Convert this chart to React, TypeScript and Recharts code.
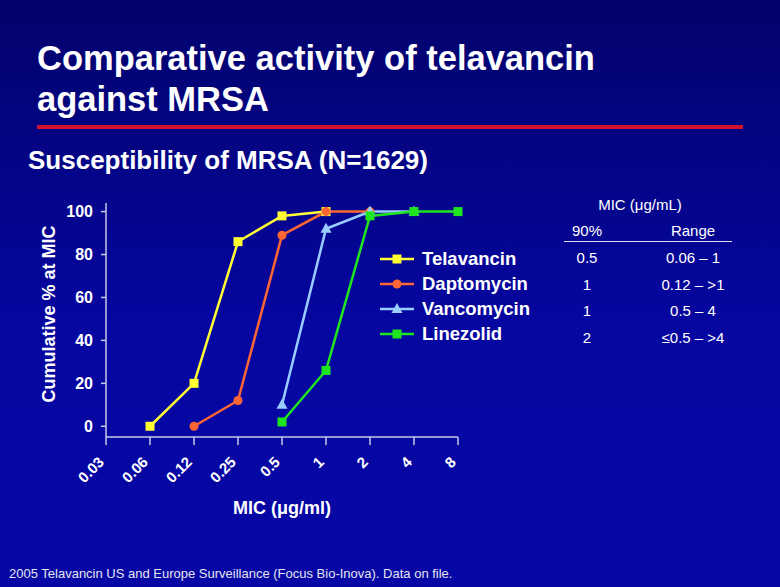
import React from 'react';
import { LineChart, Line, XAxis, YAxis, Legend } from 'recharts';

// MIC dilution steps (µg/ml) and cumulative % inhibited at each
const mics = ['0.03', '0.06', '0.12', '0.25', '0.5', '1', '2', '4', '8'];
const telavancin = [null, 0, 20, 86, 98, 100, null, null, null];
const daptomycin = [null, null, 0, 12, 89, 100, 100, null, null];
const vancomycin = [null, null, null, null, 10, 92, 100, 100, null];
const linezolid = [null, null, null, null, 2, 26, 98, 100, 100];
const yTicks = [0, 20, 40, 60, 80, 100];

// side table
const tableDrugs = ['Telavancin', 'Daptomycin', 'Vancomycin', 'Linezolid'];
const mic90 = ['0.5', '1', '1', '2'];
const micRange = ['0.06 – 1', '0.12 – >1', '0.5 – 4', '≤0.5 – >4'];

const data = mics.map((mic, i) => ({
  mic,
  Telavancin: telavancin[i],
  Daptomycin: daptomycin[i],
  Vancomycin: vancomycin[i],
  Linezolid: linezolid[i],
}));

const FONT = '"Liberation Sans", Arial, Helvetica, sans-serif';

const series = [
  { key: 'Telavancin', color: '#ffff33', shape: 'square' },
  { key: 'Daptomycin', color: '#ff6633', shape: 'circle' },
  { key: 'Vancomycin', color: '#99ccff', shape: 'triangle' },
  { key: 'Linezolid', color: '#1ee61e', shape: 'square' },
];

function Marker({ shape, color, cx, cy }: { shape: string; color: string; cx: number; cy: number }) {
  if (shape === 'circle') return <circle cx={cx} cy={cy} r={4.5} fill={color} />;
  if (shape === 'triangle')
    return <polygon points={`${cx},${cy - 6} ${cx + 5.5},${cy + 4} ${cx - 5.5},${cy + 4}`} fill={color} />;
  return <rect x={cx - 4.5} y={cy - 4.5} width={9} height={9} fill={color} />;
}

const makeDot = (shape: string, color: string) => (p: any) => {
  const { cx, cy, index } = p;
  if (cx == null || cy == null || p.value == null) return <g key={`e${index}`} />;
  return (
    <g key={`d${index}`}>
      <Marker shape={shape} color={color} cx={cx} cy={cy} />
    </g>
  );
};

const XTick = ({ x, y, payload }: any) => (
  <text
    transform={`translate(${x - 1},${y + 16}) rotate(-45)`}
    textAnchor="end"
    fill="#ffffff"
    fontSize={15}
    fontWeight="bold"
    fontFamily={FONT}
  >
    {payload.value}
  </text>
);

const LegendBox = () => (
  <div style={{ fontFamily: FONT }}>
    {series.map((s) => (
      <div key={s.key} style={{ display: 'flex', alignItems: 'center', height: 25 }}>
        <svg width={40} height={16} style={{ marginRight: 4 }}>
          <line x1={2} y1={8} x2={36} y2={8} stroke={s.color} strokeWidth={2.5} />
          <Marker shape={s.shape} color={s.color} cx={19} cy={8} />
        </svg>
        <span style={{ color: '#fff', fontSize: 18.5, fontWeight: 'bold' }}>{s.key}</span>
      </div>
    ))}
  </div>
);

const abs = (left: number, top: number, extra: React.CSSProperties = {}): React.CSSProperties => ({
  position: 'absolute',
  left,
  top,
  whiteSpace: 'nowrap',
  ...extra,
});

export default function App() {
  return (
    <div
      style={{
        position: 'absolute',
        left: 0,
        top: 0,
        width: 780,
        height: 587,
        overflow: 'hidden',
        fontFamily: FONT,
        color: '#fff',
        background: 'linear-gradient(180deg, #02026c 0%, #0606a0 55%, #0707a6 100%)',
      }}
    >
      <div style={abs(37, 38, { fontSize: 34.5, fontWeight: 'bold', lineHeight: '41px' })}>
        Comparative activity of telavancin
        <br />
        against MRSA
      </div>
      <div style={abs(37, 125, { width: 706, height: 4, background: '#d01030' })} />
      <div style={abs(28, 145, { fontSize: 26, fontWeight: 'bold' })}>Susceptibility of MRSA (N=1629)</div>

      <div style={{ position: 'absolute', left: 0, top: 0 }}>
        <LineChart width={780} height={587} data={data} margin={{ top: 203, right: 322, bottom: 60, left: 0 }}>
          <XAxis
            dataKey="mic"
            scale="point"
            interval={0}
            padding={{ left: 0, right: 0 }}
            tickSize={8}
            tickMargin={2}
            stroke="#c8c8e6"
            strokeWidth={1.5}
            tick={<XTick />}
            height={90}
            label={{
              value: 'MIC (μg/ml)',
              position: 'insideBottom',
              offset: 13,
              fill: '#ffffff',
              fontSize: 18,
              fontWeight: 'bold',
              fontFamily: FONT,
            }}
          />
          <YAxis
            width={106}
            domain={[-5, 104]}
            ticks={yTicks}
            interval={0}
            tickSize={5}
            tickMargin={8}
            stroke="#c8c8e6"
            strokeWidth={1.5}
            tick={{ fill: '#ffffff', fontSize: 16, fontWeight: 'bold', fontFamily: FONT }}
            label={{
              value: 'Cumulative % at MIC',
              angle: -90,
              position: 'insideLeft',
              offset: 49,
              dy: -6,
              fill: '#ffffff',
              fontSize: 18,
              fontWeight: 'bold',
              fontFamily: FONT,
              style: { textAnchor: 'middle' },
            }}
          />
          <Legend
            layout="vertical"
            align="center"
            verticalAlign="middle"
            content={() => <LegendBox />}
            wrapperStyle={{ left: 378, top: 246, width: 180, height: 100 }}
          />
          {series.map((s) => (
            <Line
              key={s.key}
              dataKey={s.key}
              type="linear"
              stroke={s.color}
              strokeWidth={2.5}
              dot={makeDot(s.shape, s.color)}
              activeDot={false}
              isAnimationActive={false}
            />
          ))}
        </LineChart>
      </div>

      {/* MIC table */}
      <div style={abs(580, 196, { width: 120, textAlign: 'center', fontSize: 15 })}>MIC (μg/mL)</div>
      <div style={abs(547, 222, { width: 80, textAlign: 'center', fontSize: 15 })}>90%</div>
      <div style={abs(643, 222, { width: 100, textAlign: 'center', fontSize: 15 })}>Range</div>
      <div style={abs(564, 241, { width: 168, height: 1, background: '#e0e0f0' })} />
      {tableDrugs.map((d, i) => (
        <React.Fragment key={d}>
          <div style={abs(547, 249 + i * 26.5, { width: 80, textAlign: 'center', fontSize: 15 })}>{mic90[i]}</div>
          <div style={abs(643, 249 + i * 26.5, { width: 100, textAlign: 'center', fontSize: 15 })}>
            {micRange[i]}
          </div>
        </React.Fragment>
      ))}

      <div style={abs(9, 566, { fontSize: 13, color: '#e4e4ee' })}>
        2005 Telavancin US and Europe Surveillance (Focus Bio-Inova). Data on file.
      </div>
    </div>
  );
}
